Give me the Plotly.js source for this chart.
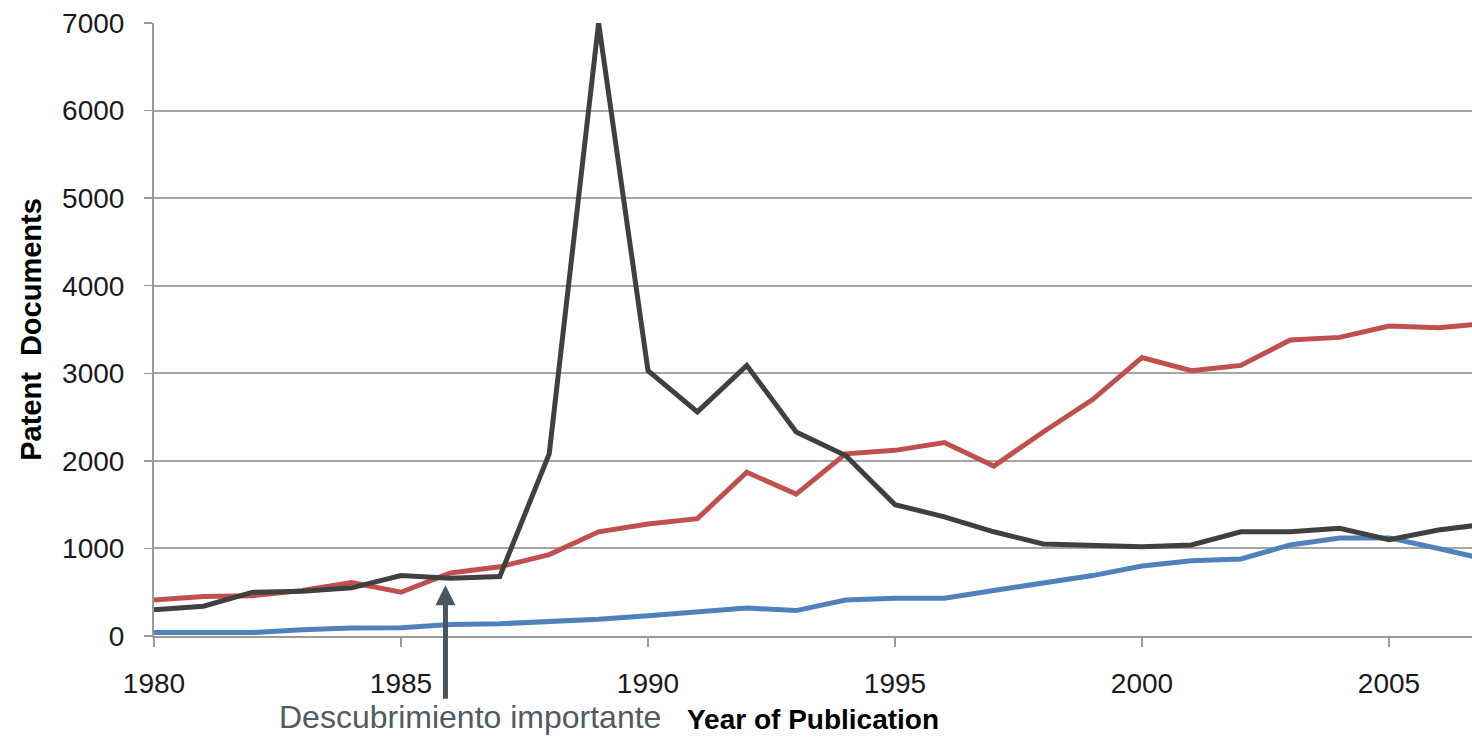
<!DOCTYPE html>
<html>
<head>
<meta charset="utf-8">
<script src="https://cdn.plot.ly/plotly-3.0.1.min.js"></script>
<style>html,body{margin:0;padding:0;background:#fff;}#chart{width:1472px;height:738px;}</style>
</head>
<body>
<div id="chart"></div>
<script>
const years = [1980,1981,1982,1983,1984,1985,1986,1987,1988,1989,1990,1991,1992,1993,1994,1995,1996,1997,1998,1999,2000,2001,2002,2003,2004,2005,2006,2007];
const seriesBlack = [300,340,500,510,550,690,660,680,2080,7000,3030,2560,3090,2330,2060,1500,1360,1190,1050,1040,1020,1040,1190,1190,1230,1100,1210,1280];
const seriesRed = [410,450,460,520,610,500,720,790,930,1190,1280,1340,1870,1620,2080,2120,2210,1940,2330,2700,3180,3030,3090,3380,3410,3540,3520,3570];
const seriesBlue = [40,40,40,70,90,95,130,140,165,190,230,270,320,290,410,430,430,520,600,690,800,860,880,1040,1120,1120,1000,870];
const xTickVals = [1980,1985,1990,1995,2000,2005];
const yTickVals = [0,1000,2000,3000,4000,5000,6000,7000];
const annotationText = "Descubrimiento importante";

const font = "Arial, 'Liberation Sans', sans-serif";
const traces = [
  {x: years, y: seriesBlue, mode: 'lines', line: {color: '#4f81bd', width: 5}, name: 'blue'},
  {x: years, y: seriesRed, mode: 'lines', line: {color: '#c0504d', width: 5}, name: 'red'},
  {x: years, y: seriesBlack, mode: 'lines', line: {color: '#404040', width: 5}, name: 'black'}
];
const layout = {
  width: 1472, height: 738,
  margin: {l: 154, r: 0, t: 23, b: 102},
  paper_bgcolor: '#ffffff', plot_bgcolor: '#ffffff',
  showlegend: false,
  font: {family: font, size: 28, color: '#1a1a1a'},
  xaxis: {
    range: [1980, 2006.68], tickvals: xTickVals, ticktext: xTickVals.map(String),
    showgrid: false, zeroline: false, showline: true, linecolor: '#9a9a9a', linewidth: 2,
    ticks: 'outside', ticklen: 9, tickwidth: 1.5, tickcolor: '#9a9a9a',
    ticklabelstandoff: 12,
    tickfont: {family: font, size: 28, color: '#1a1a1a'},
    title: {text: '<b>Year of Publication</b>', font: {family: font, size: 28, color: '#000'}, standoff: 12}
  },
  yaxis: {
    range: [0, 7000], tickvals: yTickVals, ticktext: yTickVals.map(String),
    showgrid: true, gridcolor: '#a6a6a6', gridwidth: 2, zeroline: false,
    showline: true, linecolor: '#9a9a9a', linewidth: 2,
    ticks: 'outside', ticklen: 8, tickwidth: 1.5, tickcolor: '#9a9a9a',
    ticklabelstandoff: 14,
    tickfont: {family: font, size: 28, color: '#1a1a1a'},
    title: {text: '<b>Patent  Documents</b>', font: {family: font, size: 29, color: '#000'}, standoff: 12}
  },
  annotations: [
    {x: 1985.9, y: 580, xref: 'x', yref: 'y', text: '', showarrow: true,
     ax: 0, ay: 115, arrowcolor: '#4b5560', arrowwidth: 5, arrowhead: 2, arrowsize: 0.8},
    {xref: 'x', yref: 'paper', x: 1986.4, y: -0.132, text: annotationText,
     showarrow: false, font: {family: font, size: 32, color: '#505a64'}, xanchor: 'center', yanchor: 'middle'}
  ]
};
Plotly.newPlot('chart', traces, layout, {displayModeBar: false, staticPlot: true});
</script>
</body>
</html>
